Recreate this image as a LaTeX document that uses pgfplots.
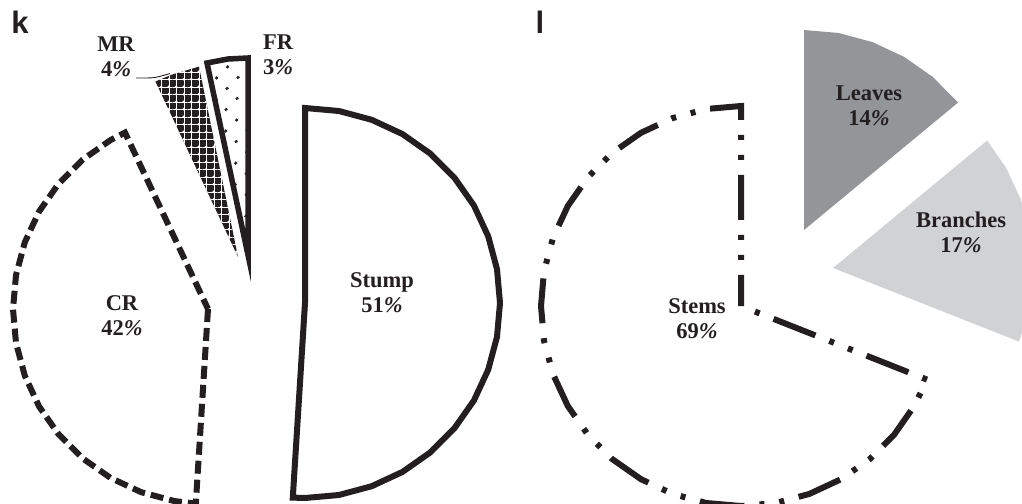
\documentclass[border=0pt]{standalone}
\usepackage{pgfplots}
\pgfplotsset{compat=1.18}
\usepackage{fontspec}
\setmainfont{Liberation Serif}
\newfontfamily\sansf{Liberation Sans}
\usetikzlibrary{patterns.meta}
\definecolor{ink}{HTML}{231F20}
\definecolor{leafgray}{HTML}{939598}
\definecolor{branchgray}{HTML}{D1D2D4}
\tikzset{lbl/.style={font=\fontsize{22.5bp}{25bp}\selectfont\bfseries, align=center, text=ink}}
\begin{document}
\begin{tikzpicture}
\begin{axis}[scale only axis, width=1022bp, height=503bp,
  xmin=0, xmax=1022, ymin=0, ymax=503, y dir=reverse,
  hide axis, clip=true]

% ---- panel k : Stump 51, CR 42, MR 4, FR 3 ----
% Stump 51%
\addplot[draw=ink, line width=6bp, fill=white] coordinates {
 (305,303) (305,108) (338.9,111.0) (371.7,119.8) (402.5,134.1) (430.3,153.6)
 (454.4,177.7) (473.9,205.5) (488.2,236.3) (497.0,269.1) (500,303)
 (497.0,336.9) (488.2,369.7) (473.9,400.5) (454.4,428.3) (430.3,452.4)
 (402.5,471.9) (371.7,486.2) (338.9,495.0) (305,498) (292.8,497.6)
} -- cycle;
% CR 42%
\addplot[draw=ink, line width=6bp, dash pattern=on 13bp off 6bp, fill=white] coordinates {
 (208,309) (195.8,503.6) (174.1,501.0) (141.3,492.2) (110.5,477.9) (82.7,458.4)
 (58.6,434.3) (39.1,406.5) (24.8,375.7) (16.0,342.9) (13,309) (16.0,275.1)
 (24.8,242.3) (39.1,211.5) (58.6,183.7) (82.7,159.6) (110.5,140.1) (125.0,132.6)
} -- cycle;
% MR 4%
\addplot[draw=none, fill=ink] coordinates {
 (238,257) (155.4,81.5) (171.7,74.7) (199,66.6)
} -- cycle;
\addplot[draw=none, pattern={Dots[distance=7.5bp, radius=1.4bp, xshift=3.75bp, yshift=3.75bp]}, pattern color=white] coordinates {
 (238,257) (155.4,81.5) (171.7,74.7) (199,66.6)
} -- cycle;
\addplot[draw=none, pattern={Hatch[distance=7.5bp, line width=0.4bp, xshift=3.75bp, yshift=3.75bp]}, pattern color=white] coordinates {
 (238,257) (155.4,81.5) (171.7,74.7) (199,66.6)
} -- cycle;
% FR 3%
\addplot[draw=ink, line width=5.5bp, pattern={Dots[angle=45, distance=15bp, radius=1.6bp]}, pattern color=ink] coordinates {
 (248,255) (207,63) (228,59) (248,58)
} -- cycle;
% leader line for MR
\addplot[ink, line width=0.9bp, smooth] coordinates {(136,78) (154,77.6) (170,73.5)};

% ---- panel l : Stems 69, Leaves 14, Branches 17 ----
% Stems 69%
\addplot[draw=ink, line width=6bp, dash pattern=on 45bp off 15bp on 5bp off 15bp on 5bp off 15bp, dash phase=65bp, fill=white] coordinates {
 (741,306) (927.0,379.6) (914.2,406) (894.2,434.6) (869.6,459.2) (841,479.2)
 (809.4,493.9) (775.7,503.0) (741,506) (706.3,503.0) (672.6,493.9) (641,479.2)
 (612.4,459.2) (587.8,434.6) (567.8,406) (553.1,374.4) (544.0,340.7) (541,306)
 (544.0,271.3) (553.1,237.6) (567.8,206) (587.8,177.4) (612.4,152.8) (641,132.8)
 (672.6,118.1) (706.3,109.0) (741,106)
} -- cycle;
% Leaves 14%
\addplot[draw=none, fill=leafgray] coordinates {
 (804,230) (804,30) (838.7,33.0) (872.4,42.1) (904,56.8) (932.6,76.8) (958.1,102.5)
} -- cycle;
% Branches 17%
\addplot[draw=none, fill=branchgray] coordinates {
 (833,268) (987.1,140.5) (1006.2,168) (1020.9,199.6) (1030,233.3) (1033,268)
 (1030,302.7) (1020.9,336.4) (1019,341.6)
} -- cycle;

% labels
\node[lbl] at (axis cs:116,57) {MR\\4\textit{\%}};
\node[lbl] at (axis cs:278,55) {FR\\3\textit{\%}};
\node[lbl] at (axis cs:122,316) {CR\\42\textit{\%}};
\node[lbl] at (axis cs:382,293) {Stump\\51\textit{\%}};
\node[lbl] at (axis cs:869,106) {Leaves\\14\textit{\%}};
\node[lbl] at (axis cs:961,232) {Branches\\17\textit{\%}};
\node[lbl] at (axis cs:697,319) {Stems\\69\textit{\%}};
\node[font=\fontsize{31bp}{34bp}\selectfont\sansf\bfseries, text=ink] at (axis cs:20,22) {k};
\node[font=\fontsize{31bp}{34bp}\selectfont\sansf\bfseries, text=ink] at (axis cs:540,22) {l};
\end{axis}
\pgfresetboundingbox
\path (current axis.south west) rectangle (current axis.north east);
\end{tikzpicture}
\end{document}
